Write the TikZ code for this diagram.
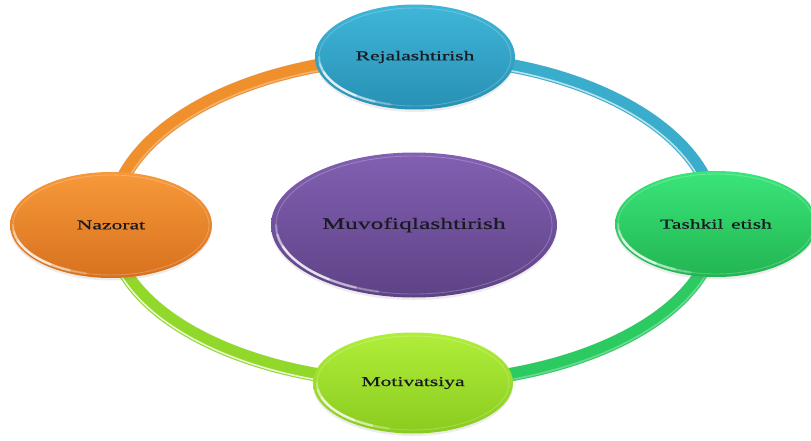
\documentclass[tikz,border=0pt]{standalone}
\usepackage{fontspec}
\setmainfont{Liberation Serif}[FakeStretch=1.6,FakeBold=0.7]
\usetikzlibrary{shapes.geometric,backgrounds,shadows}

\definecolor{textdark}{HTML}{1A1A22}
% node fills: light top, darker bottom
\definecolor{blueTop}{HTML}{3FB6D8}\definecolor{blueBot}{HTML}{2790B5}
\definecolor{greenTop}{HTML}{3AE57A}\definecolor{greenBot}{HTML}{22B552}
\definecolor{limeTop}{HTML}{B0EE3A}\definecolor{limeBot}{HTML}{8ACB1E}
\definecolor{orangeTop}{HTML}{F7993A}\definecolor{orangeBot}{HTML}{D8711E}
\definecolor{purpleTop}{HTML}{8260B2}\definecolor{purpleBot}{HTML}{5E4286}
% ring segments
\definecolor{ringOrange}{HTML}{F0902C}
\definecolor{ringBlue}{HTML}{3AADCD}
\definecolor{ringGreen}{HTML}{2CCB62}
\definecolor{ringLime}{HTML}{92D82A}

\tikzset{
  bubble/.style={ellipse, inner sep=0pt, text=textdark,
    font=\fontsize{13.5}{16}\selectfont,
    drop shadow={opacity=0.15, shadow xshift=0pt, shadow yshift=-2.5pt}},
  tube/.style={line width=13.5pt},
  tubeshade/.style={line width=14pt, black, opacity=0.10},
  tubeshine/.style={line width=1.6pt, white, opacity=#1},
  gloss/.style={white, opacity=#1, line width=2.4pt, line cap=round},
  rim/.style={white, opacity=0.22, line width=0.9pt},
}

% lower-left sheen and light rim on a bubble: node, x radius, y radius
\newcommand\glossy[3]{%
  \draw[rim] (#1.center) ellipse[x radius=#2, y radius=#3];
  \draw[gloss=0.25] ([shift={(105:#2 and #3)}]#1.center)
    arc[start angle=105, end angle=180, x radius=#2, y radius=#3];
  \draw[gloss=0.4] ([shift={(115:#2 and #3)}]#1.center)
    arc[start angle=115, end angle=172, x radius=#2, y radius=#3];
  \draw[gloss=0.6] ([shift={(128:#2 and #3)}]#1.center)
    arc[start angle=128, end angle=162, x radius=#2, y radius=#3];
}

\begin{document}
\begin{tikzpicture}[x=1pt,y=-1pt]
  \useasboundingbox (0,0) rectangle (811,441);

  % the four stages and the centre
  \node[bubble, minimum width=200pt, minimum height=105pt,
        top color=blueTop, bottom color=blueBot] (rej) at (415,57) {Rejalashtirish};
  \node[bubble, minimum width=202pt, minimum height=106pt,
        top color=greenTop, bottom color=greenBot] (tas) at (716,224) {Tashkil\, etish};
  \node[bubble, minimum width=200pt, minimum height=101pt,
        top color=limeTop, bottom color=limeBot] (mot) at (413,383) {Motivatsiya};
  \node[bubble, minimum width=202pt, minimum height=106pt,
        top color=orangeTop, bottom color=orangeBot] (naz) at (111,225) {Nazorat};
  \node[bubble, minimum width=286pt, minimum height=145pt,
        font=\fontsize{16}{19}\selectfont,
        top color=purpleTop, bottom color=purpleBot] (muv) at (414,225) {Muvofiqlashtirish};

  \glossy{rej}{96}{49}
  \glossy{tas}{98}{50}
  \glossy{mot}{96}{47}
  \glossy{naz}{98}{50}
  \glossy{muv}{138}{69}

  % the ring joining the stages, behind the bubbles
  \begin{pgfonlayer}{background}
    % soft shadow under the ring
    \begin{scope}[yshift=-2.5pt]
      \draw[tubeshade] (naz.center) .. controls +(0,-93) and +(-168,0) .. (rej.center);
      \draw[tubeshade] (rej.center) .. controls +(166,0) and +(0,-92) .. (tas.center);
      \draw[tubeshade] (tas.center) .. controls +(0,88) and +(167,0) .. (mot.center);
      \draw[tubeshade] (mot.center) .. controls +(-167,0) and +(0,87) .. (naz.center);
    \end{scope}
    % tube body
    \draw[tube, ringOrange] (naz.center) .. controls +(0,-93) and +(-168,0) .. (rej.center);
    \draw[tube, ringBlue]   (rej.center) .. controls +(166,0) and +(0,-92) .. (tas.center);
    \draw[tube, ringGreen]  (tas.center) .. controls +(0,88) and +(167,0) .. (mot.center);
    \draw[tube, ringLime]   (mot.center) .. controls +(-167,0) and +(0,87) .. (naz.center);
    % bright line along the lower edge of each segment
    \draw[tubeshine=0.3]  ([xshift=5pt]naz.center) .. controls +(0,-90) and +(-165,0) .. ([yshift=-5pt]rej.center);
    \draw[tubeshine=0.65] ([yshift=-5pt]rej.center) .. controls +(163,0) and +(0,-89) .. ([xshift=-5pt]tas.center);
    \draw[tubeshine=0.3]  ([xshift=5pt]tas.center) .. controls +(0,91) and +(170,0) .. ([yshift=-5pt]mot.center);
    \draw[tubeshine=0.8]  ([yshift=-5pt]mot.center) .. controls +(-170,0) and +(0,90) .. ([xshift=-5pt]naz.center);
  \end{pgfonlayer}
\end{tikzpicture}
\end{document}
